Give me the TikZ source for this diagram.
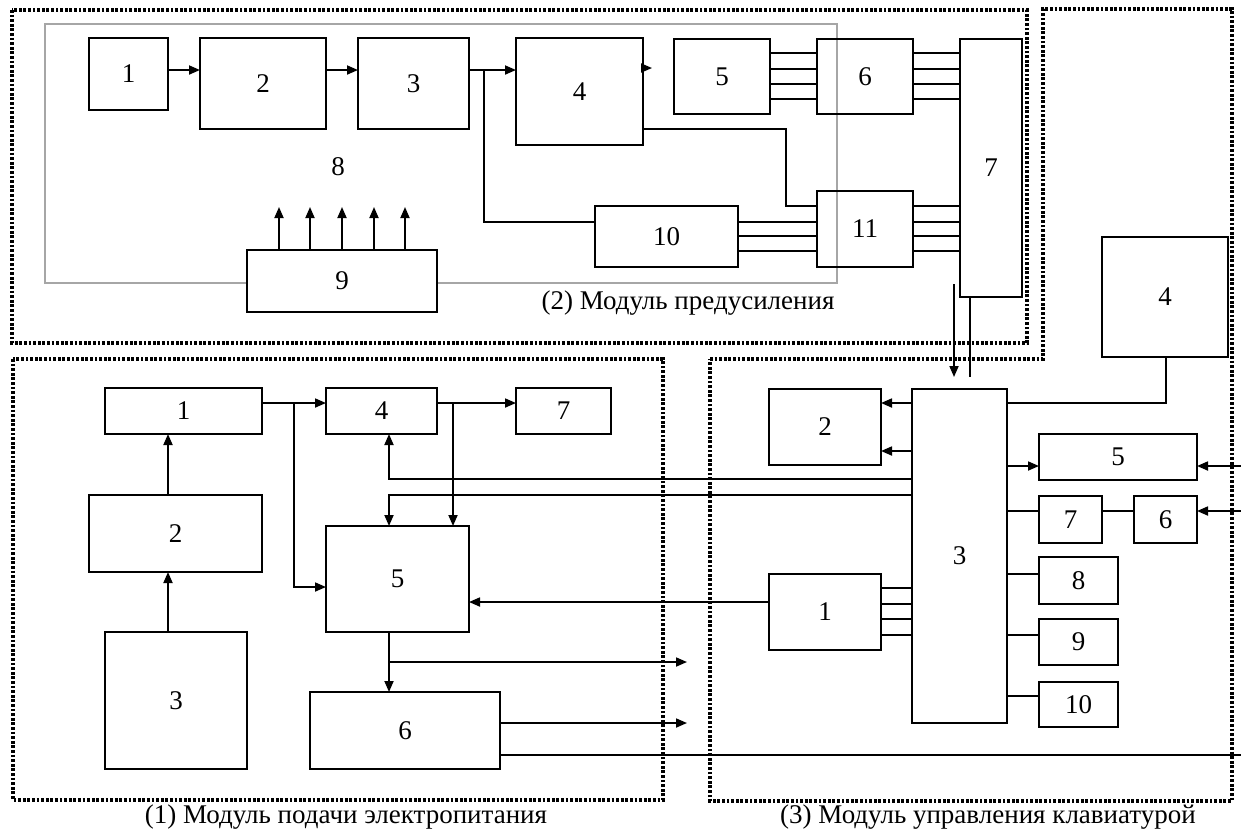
\documentclass[tikz,border=0pt]{standalone}
\usepackage{fontspec}
\setmainfont{Liberation Serif}
\usetikzlibrary{arrows.meta}

% block from its corners (in pixels) with a name and a number
\newcommand{\blk}[6]{\node [blk, minimum width={(#4-#2)*0.5pt}, minimum height={(#5-#3)*0.5pt}] (#1) at ({(#2+#4)/2},{(#3+#5)/2}) {#6};}

\begin{document}
\begin{tikzpicture}[x=0.5pt,y=-0.5pt,
    blk/.style={draw=black, line width=0.9pt, inner sep=0pt, outer sep=0pt, font=\fontsize{13.5}{15}\selectfont},
    wire/.style={line width=0.9pt},
    arr/.style={wire, -{Triangle[length=5.5pt,width=4.5pt]}},
    frame/.style={line width=1.6pt, dash pattern=on 1.4pt off 0.9pt},
    lbl/.style={inner sep=0pt, font=\fontsize{13.5}{15}\selectfont}]
  \useasboundingbox (0,0) rectangle (1241,832);

  % module 2
  \draw [gray!70, line width=0.6pt] (45,24) rectangle (837,283);
  \node [lbl] (n8) at (338,167) {8};
  \blk{b1}{89}{38}{168}{110}{1}
  \blk{b2}{200}{38}{326}{129}{2}
  \blk{b3}{358}{38}{469}{129}{3}
  \blk{b4}{516}{38}{643}{145}{4}
  \blk{b5}{674}{39}{770}{114}{5}
  \blk{b6}{817}{39}{913}{114}{6}
  \blk{b7}{960}{39}{1022}{297}{7}
  \blk{b10}{595}{206}{738}{267}{10}
  \blk{b11}{817}{191}{913}{267}{11}
  \node [blk, fill=white, minimum width=95pt, minimum height=31pt] (b9) at (342,281) {9};
  \draw [arr] (b1.east |- 0,70) -- (b2.west |- 0,70);
  \draw [arr] (b2.east |- 0,70) -- (b3.west |- 0,70);
  \draw [arr] (b3.east |- 0,70) -- (b4.west |- 0,70);
  \coordinate (j1) at (484,70);
  \draw [wire] (j1) |- (b10.west |- 0,222);
  \draw [arr] (b4.east |- 0,68) -- ++(9,0);
  \coordinate (k1) at (786,129);
  \draw [wire] (b4.east |- 0,129) -- (k1) |- (b11.west |- 0,206);
  \foreach \y in {53,69,84,99} {
    \draw [wire] (b5.east |- 0,\y) -- (b6.west |- 0,\y);
    \draw [wire] (b6.east |- 0,\y) -- (b7.west |- 0,\y);
  }
  \foreach \y in {222,236,251}
    \draw [wire] (b10.east |- 0,\y) -- (b11.west |- 0,\y);
  \foreach \y in {206,222,236,251}
    \draw [wire] (b11.east |- 0,\y) -- (b7.west |- 0,\y);
  \foreach \x in {279,310,342,374,405}
    \draw [arr] (b9.north -| \x,0) -- (\x,207);

  % module 1
  \blk{a1}{105}{388}{262}{434}{1}
  \blk{a4}{326}{388}{437}{434}{4}
  \blk{a7}{516}{388}{611}{434}{7}
  \blk{a2}{89}{495}{262}{572}{2}
  \blk{a3}{105}{632}{247}{769}{3}
  \blk{a5}{326}{526}{469}{632}{5}
  \blk{a6}{310}{692}{500}{769}{6}
  \draw [arr] (a1.east |- 0,403) -- (a4.west |- 0,403);
  \draw [arr] (a4.east |- 0,403) -- (a7.west |- 0,403);
  \coordinate (j2) at (294,403);
  \draw [arr] (j2) |- (a5.west |- 0,587);
  \coordinate (j3) at (453,403);
  \draw [arr] (j3) -- (a5.north -| 453,0);
  \draw [arr] (a2.north -| 168,0) -- (a1.south -| 168,0);
  \draw [arr] (a3.north -| 168,0) -- (a2.south -| 168,0);
  \draw [arr] (a5.south -| 389,0) -- (a6.north -| 389,0);
  \coordinate (j4) at (389,662);
  \coordinate (o1) at (687,662);
  \coordinate (o2) at (687,723);
  \draw [arr] (j4) -- (o1);
  \draw [arr] (a6.east |- 0,723) -- (o2);

  % module 3
  \blk{c4}{1102}{237}{1228}{357}{4}
  \blk{c3}{912}{389}{1007}{723}{3}
  \blk{c2}{769}{389}{881}{465}{2}
  \blk{c1}{769}{574}{881}{650}{1}
  \blk{c5}{1039}{434}{1197}{480}{5}
  \blk{c7}{1039}{496}{1102}{543}{7}
  \blk{c6}{1134}{496}{1197}{543}{6}
  \blk{c8}{1039}{557}{1118}{604}{8}
  \blk{c9}{1039}{619}{1118}{665}{9}
  \blk{c10}{1039}{682}{1118}{727}{10}
  \draw [arr] (c3.west |- 0,403) -- (c2.east |- 0,403);
  \draw [arr] (c3.west |- 0,451) -- (c2.east |- 0,451);
  \draw [wire] (c4.south -| 1166,0) |- (c3.east |- 0,403);
  \draw [arr] (c3.east |- 0,466) -- (c5.west |- 0,466);
  \coordinate (e1) at (1241,466);
  \coordinate (e2) at (1241,511);
  \coordinate (e3) at (1241,755);
  \draw [arr] (e1) -- (c5.east |- 0,466);
  \draw [wire] (c3.east |- 0,511) -- (c7.west |- 0,511);
  \draw [wire] (c7.east |- 0,511) -- (c6.west |- 0,511);
  \draw [arr] (e2) -- (c6.east |- 0,511);
  \draw [wire] (c3.east |- 0,574) -- (c8.west |- 0,574);
  \draw [wire] (c3.east |- 0,635) -- (c9.west |- 0,635);
  \draw [wire] (c3.east |- 0,696) -- (c10.west |- 0,696);
  \foreach \y in {588,604,619,635}
    \draw [wire] (c1.east |- 0,\y) -- (c3.west |- 0,\y);

  % between the modules
  \coordinate (t1) at (954,284);
  \coordinate (t2) at (970,377);
  \draw [arr, shorten >=6pt] (t1) -- (c3.north -| 954,0);
  \draw [wire] (b7.south -| 970,0) -- (t2);
  \draw [arr] (c1.west |- 0,602) -- (a5.east |- 0,602);
  \draw [arr] (c3.west |- 0,479) -| (a4.south -| 389,0);
  \draw [arr] (c3.west |- 0,495) -| (a5.north -| 389,0);
  \draw [wire] (a6.east |- 0,755) -- (e3);

  % frames
  \draw [frame] (12,10) rectangle (1027,343);
  \draw [frame] (13,359) rectangle (663,800);
  \draw [frame] (710,359) -- (1043,359) -- (1043,9) -- (1232,9) -- (1232,801) -- (710,801) -- cycle;
  \node [lbl] (m2) at (688,303) {(2) Модуль предусиления};
  \node [lbl, anchor=base] (m1) at (346,823) {(1) Модуль подачи электропитания};
  \node [lbl, anchor=base] (m3) at (988,823) {(3) Модуль управления клавиатурой};
\end{tikzpicture}
\end{document}
